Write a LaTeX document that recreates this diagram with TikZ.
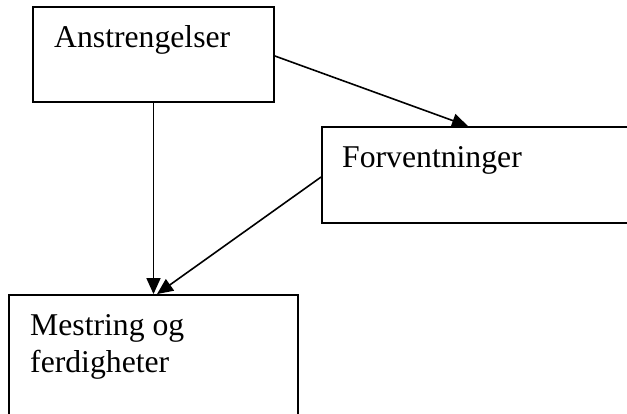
\documentclass[tikz,border=0pt]{standalone}
\usepackage{fontspec}
\setmainfont{Liberation Serif}
\usetikzlibrary{arrows.meta}
\begin{document}
\begin{tikzpicture}[x=1pt,y=-1pt,
  box/.style={draw=black,line width=1.8pt,rectangle,inner sep=0pt},
  lbl/.style={inner sep=0pt,anchor=base west,font=\fontsize{31.7}{37}\selectfont},
  link/.style={line width=1.6pt,-{Triangle[length=16pt,width=14pt]}}]
\useasboundingbox (0,0) rectangle (627,414);
\clip (0,0) rectangle (627,414);
% the three boxes
\node[box,minimum width=241pt,minimum height=95pt] (ans) at (153.5,54.5) {};
\node[box,minimum width=328pt,minimum height=96pt] (forv) at (486,175) {};
\node[box,minimum width=289pt,minimum height=145pt] (mest) at (153.5,367.5) {};
% labels
\node[lbl] (tans) at (54,48) {Anstrengelser};
\node[lbl] (tforv) at (342,168) {Forventninger};
\node[lbl] (tmest1) at (30,335) {Mestring og};
\node[lbl] (tmest2) at (30,372) {ferdigheter};
% connectors
\draw[link] ([yshift=-1.5pt]ans.east) -- ([xshift=-18pt]forv.north);
\draw[link] ([yshift=-2pt]forv.west) -- ([xshift=3.5pt]mest.north);
\draw[link] (ans.south) -- (mest.north);
\end{tikzpicture}
\end{document}
